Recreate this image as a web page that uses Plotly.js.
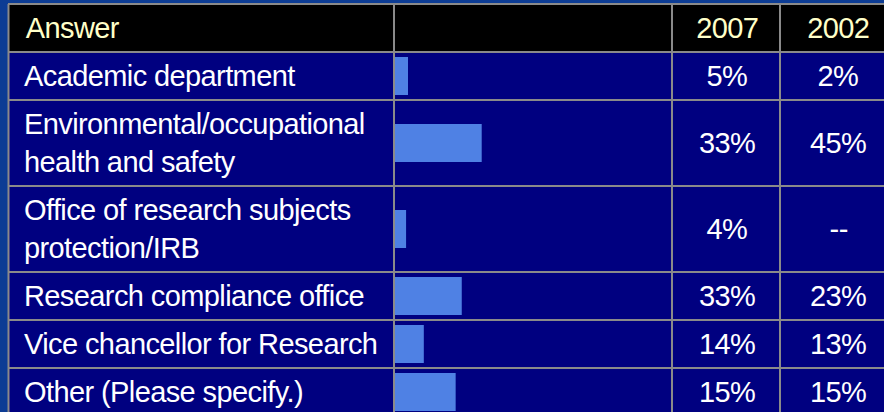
<!DOCTYPE html>
<html>
<head>
<meta charset="utf-8">
<script src="https://cdn.plot.ly/plotly-3.0.1.min.js"></script>
<style>
  html, body { margin: 0; padding: 0; background: #0c3c94; }
  #chart { width: 884px; height: 412px; }
  #chart .annotation-text { letter-spacing: -0.6px; }
</style>
</head>
<body>
<div id="chart"></div>
<script>
// ---- data ----
var headerLabel = "Answer";
var years = ["2007", "2002"];
var answers = [
  "Academic department",
  "Environmental/occupational<br>health and safety",
  "Office of research subjects<br>protection/IRB",
  "Research compliance office",
  "Vice chancellor for Research",
  "Other (Please specify.)"
];
var values2007 = [5, 33, 4, 33, 14, 15];
var values2002 = [2, 45, null, 23, 13, 15];
var barValues = [4.7, 31.3, 4.0, 24.1, 10.4, 21.9];

// ---- layout helpers ----
var W = 884, H = 412;
var px = function (v) { return v / W; };
var tableLeft = 8, headerTop = 4, headerBottom = 52;
var colAnswerEnd = 394, colBarEnd = 672, col2007End = 780;
var col2007Center = 727, col2002Center = 838;
var textLeft = 22;
var gridColor = "#8a8a8a";
var fontFamily = "Liberation Sans, Arial, sans-serif";

// row geometry from number of text lines
var rowTops = [], rowCenters = [];
var y = headerBottom;
answers.forEach(function (a) {
  var lines = a.split("<br>").length;
  var h = 10 + 38 * lines;
  rowTops.push(y);
  rowCenters.push(y + h / 2);
  y += h;
});
var tableBottom = H + 10;

var shapes = [];
shapes.push({type: "rect", xref: "paper", yref: "y", x0: px(tableLeft), x1: 1.01, y0: headerTop, y1: headerBottom,
  fillcolor: "#000000", line: {width: 0}, layer: "below"});
shapes.push({type: "rect", xref: "paper", yref: "y", x0: px(tableLeft), x1: 1.01, y0: headerBottom, y1: tableBottom,
  fillcolor: "#000080", line: {width: 0}, layer: "below"});
[headerTop, headerBottom].concat(rowTops.slice(1)).forEach(function (yy) {
  shapes.push({type: "line", xref: "paper", yref: "y", x0: px(tableLeft), x1: 1.01, y0: yy, y1: yy,
    line: {color: gridColor, width: 2}, layer: "above"});
});
[tableLeft + 0.5, colAnswerEnd, colBarEnd, col2007End].forEach(function (xx) {
  shapes.push({type: "line", xref: "paper", yref: "y", x0: px(xx), x1: px(xx), y0: headerTop, y1: tableBottom,
    line: {color: gridColor, width: 2}, layer: "above"});
});

var annotations = [];
var headerFont = {family: fontFamily, size: 29, color: "#ffffc8"};
var bodyFont = {family: fontFamily, size: 29, color: "#ffffff"};
var headerMid = (headerTop + headerBottom) / 2;
annotations.push({text: headerLabel, xref: "paper", yref: "y", x: px(textLeft), y: headerMid,
  xanchor: "left", yanchor: "middle", showarrow: false, font: headerFont});
annotations.push({text: years[0], xref: "paper", yref: "y", x: px(col2007Center), y: headerMid,
  xanchor: "center", yanchor: "middle", showarrow: false, font: headerFont});
annotations.push({text: years[1], xref: "paper", yref: "y", x: px(col2002Center), y: headerMid,
  xanchor: "center", yanchor: "middle", showarrow: false, font: headerFont});

var fmt = function (v) { return v === null ? "--" : v + "%"; };
answers.forEach(function (a, i) {
  annotations.push({text: a, xref: "paper", yref: "y", x: px(textLeft), y: rowCenters[i],
    xanchor: "left", yanchor: "middle", align: "left", showarrow: false, font: bodyFont});
  annotations.push({text: fmt(values2007[i]), xref: "paper", yref: "y", x: px(col2007Center), y: rowCenters[i],
    xanchor: "center", yanchor: "middle", showarrow: false, font: bodyFont});
  annotations.push({text: fmt(values2002[i]), xref: "paper", yref: "y", x: px(col2002Center), y: rowCenters[i],
    xanchor: "center", yanchor: "middle", showarrow: false, font: bodyFont});
});

var trace = {
  type: "bar",
  orientation: "h",
  x: barValues,
  y: rowCenters,
  width: 38,
  marker: {color: "#4f81e4", line: {width: 0}},
  hoverinfo: "skip"
};

var layout = {
  width: W, height: H,
  margin: {l: 0, r: 0, t: 0, b: 0, pad: 0},
  paper_bgcolor: "#0c3c94",
  plot_bgcolor: "rgba(0,0,0,0)",
  showlegend: false,
  xaxis: {domain: [px(colAnswerEnd + 1), px(colBarEnd)], range: [0, 100], visible: false, fixedrange: true},
  yaxis: {domain: [0, 1], range: [H, 0], visible: false, fixedrange: true},
  shapes: shapes,
  annotations: annotations
};

Plotly.newPlot("chart", [trace], layout, {displayModeBar: false, staticPlot: true});
</script>
</body>
</html>
